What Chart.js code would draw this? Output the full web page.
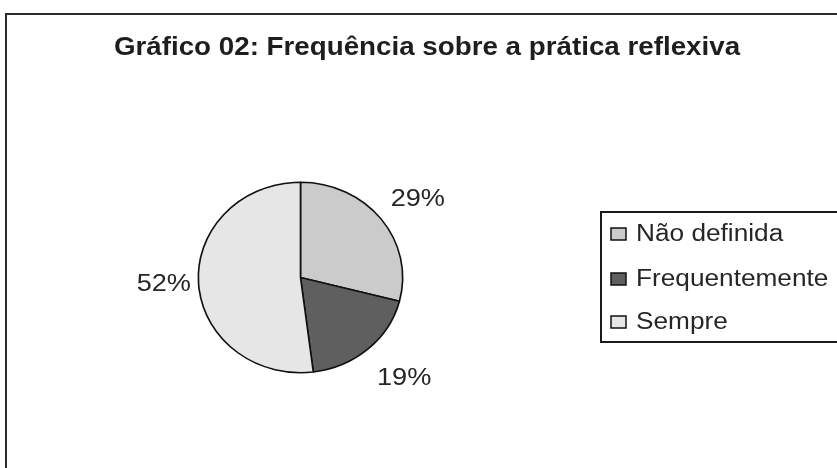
<!DOCTYPE html>
<html>
<head>
<meta charset="utf-8">
<script src="https://cdn.jsdelivr.net/npm/chart.js@4/dist/chart.umd.min.js"></script>
<style>
html,body{margin:0;padding:0;background:#fff;overflow:hidden;}
#wrap{position:relative;width:837px;height:468px;}
#frame{position:absolute;left:5px;top:13px;width:850px;height:480px;border:2px solid #2a2a2a;box-sizing:border-box;}
canvas{position:absolute;left:0;top:0;}
</style>
</head>
<body>
<div id="wrap">
<div id="frame"></div>
<canvas id="c" width="837" height="468"></canvas>
</div>
<script>
const chartTitle = "Gráfico 02: Frequência sobre a prática reflexiva";
const categories = ["Não definida", "Frequentemente", "Sempre"];
const values = [29, 19, 52];
const valueLabels = ["29%", "19%", "52%"];
const colors = ["#cbcbcb", "#5f5f5f", "#e6e6e6"];

const FONT = "'Liberation Sans', Arial, sans-serif";

function stretchedText(ctx, text, x, y, align, sx) {
  ctx.save();
  ctx.translate(x, y);
  ctx.scale(sx, 1);
  ctx.textAlign = align;
  ctx.fillText(text, 0, 0);
  ctx.restore();
}

const ellipse = {
  id: 'ellipse',
  beforeDatasetsDraw(chart) {
    const a = chart.chartArea;
    const cx = (a.left + a.right) / 2, cy = (a.top + a.bottom) / 2;
    chart.ctx.save();
    chart.ctx.translate(cx, cy);
    chart.ctx.scale(1.035, 0.965);
    chart.ctx.translate(-cx, -cy);
  },
  afterDatasetsDraw(chart) {
    chart.ctx.restore();
  }
};

// label distance beyond the pie edge, per slice (style setting)
const labelGap = [44, 52, 33];

const overlay = {
  id: 'overlay',
  afterDraw(chart) {
    const ctx = chart.ctx;
    ctx.save();
    // title
    ctx.fillStyle = '#1e1e1e';
    ctx.font = "bold 25px " + FONT;
    ctx.textBaseline = 'alphabetic';
    stretchedText(ctx, chartTitle, 427, 55, 'center', 1.11);

    // value labels outside slices
    const meta = chart.getDatasetMeta(0);
    ctx.font = "24px " + FONT;
    ctx.fillStyle = '#262626';
    ctx.textBaseline = 'middle';
    meta.data.forEach((arc, i) => {
      const p = arc.getProps(['x','y','startAngle','endAngle','outerRadius'], true);
      const mid = (p.startAngle + p.endAngle) / 2;
      const r = p.outerRadius + labelGap[i];
      const x = p.x + Math.cos(mid) * r * 1.04;
      const y = p.y + Math.sin(mid) * r * 0.89;
      stretchedText(ctx, valueLabels[i], x, y, 'center', 1.13);
    });

    // legend box
    const lx = 601, ly = 212, lw = 250, lh = 130;
    ctx.lineWidth = 2;
    ctx.strokeStyle = '#1a1a1a';
    ctx.strokeRect(lx, ly, lw, lh);
    ctx.font = "23px " + FONT;
    const rows = [234, 279, 322];
    categories.forEach((c, i) => {
      const y = rows[i];
      ctx.fillStyle = colors[i];
      ctx.fillRect(611, y - 6, 15, 12);
      ctx.lineWidth = 1.5;
      ctx.strokeStyle = '#111';
      ctx.strokeRect(611, y - 6, 15, 12);
      ctx.fillStyle = '#262626';
      stretchedText(ctx, c, 636, y + 1, 'left', 1.14);
    });
    ctx.restore();
  }
};

new Chart(document.getElementById('c'), {
  type: 'pie',
  data: {
    labels: categories,
    datasets: [{
      data: values,
      backgroundColor: colors,
      borderColor: '#111',
      borderWidth: 1.6
    }]
  },
  options: {
    responsive: false,
    animation: false,
    devicePixelRatio: 1,
    layout: { padding: { left: 201, right: 837 - 400, top: 178, bottom: 468 - 377 } },
    plugins: { legend: { display: false }, tooltip: { enabled: false }, title: { display: false } }
  },
  plugins: [ellipse, overlay]
});
</script>
</body>
</html>
